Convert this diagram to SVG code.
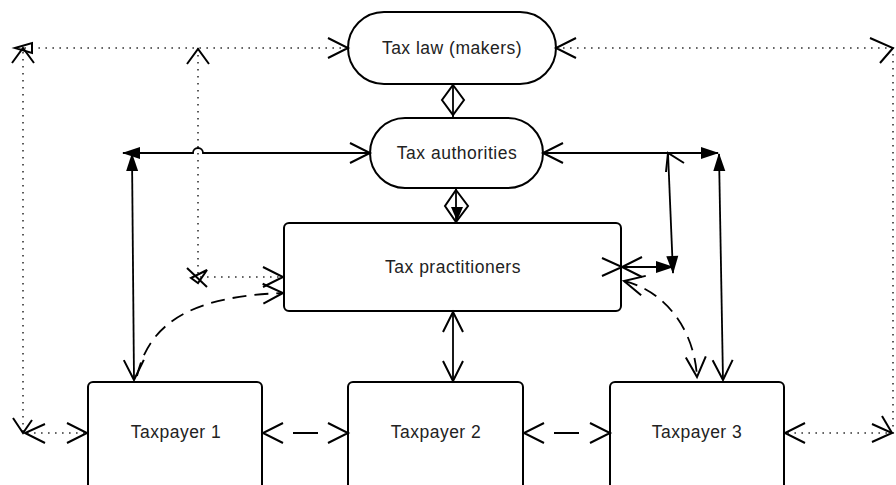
<svg xmlns="http://www.w3.org/2000/svg" width="896" height="485" viewBox="0 0 896 485">
<style>
.node{fill:#fff;stroke:#000;stroke-width:2}
.lbl{font-family:"Liberation Sans",Arial,sans-serif;font-size:17.5px;letter-spacing:0.5px;fill:#222;text-anchor:middle}
.c{fill:none;stroke:#000;stroke-width:1.8}
.dot{fill:none;stroke:#333;stroke-width:1.6;stroke-dasharray:1.6 5.4}
.dash{fill:none;stroke:#000;stroke-width:1.8;stroke-dasharray:14 8}
.ah{fill:none;stroke:#000;stroke-width:2}
</style>
<defs>
<marker id="open" viewBox="0 0 22 22" markerWidth="22" markerHeight="22" refX="21" refY="11" orient="auto-start-reverse" markerUnits="userSpaceOnUse" overflow="visible">
<path d="M1,1 L21,11 L1,21" fill="none" stroke="#000" stroke-width="2" stroke-dasharray="none"/>
</marker>
<marker id="fill" viewBox="0 0 18 12" markerWidth="18" markerHeight="12" refX="17" refY="6" orient="auto-start-reverse" markerUnits="userSpaceOnUse" overflow="visible">
<path d="M0,0 L18,6 L0,12 z" fill="#000" stroke="none"/>
</marker>
</defs>

<g id="tax-law">
  <rect class="node" x="348" y="12" width="208" height="72" rx="36"/>
  <text class="lbl" x="452" y="54">Tax law (makers)</text>
</g>
<g id="tax-authorities">
  <rect class="node" x="370" y="118" width="173" height="70" rx="35"/>
  <text class="lbl" x="457" y="159">Tax authorities</text>
</g>
<g id="tax-practitioners">
  <rect class="node" x="284" y="223" width="337" height="88" rx="5"/>
  <text class="lbl" x="453" y="273">Tax practitioners</text>
</g>
<g id="taxpayer-1">
  <rect class="node" x="88" y="382" width="174" height="120" rx="5"/>
  <text class="lbl" x="176" y="438">Taxpayer 1</text>
</g>
<g id="taxpayer-2">
  <rect class="node" x="348" y="382" width="175" height="120" rx="5"/>
  <text class="lbl" x="436" y="438">Taxpayer 2</text>
</g>
<g id="taxpayer-3">
  <rect class="node" x="610" y="382" width="174" height="120" rx="5"/>
  <text class="lbl" x="697" y="438">Taxpayer 3</text>
</g>

<g id="connectors">
  <!-- law left to taxpayer 1 (dotted) -->
  <path class="dot" d="M348,48 H23 V433 H87" marker-start="url(#open)" marker-end="url(#open)"/>
  <path class="ah" d="M12,63 L23,48 L34,63"/>
  <path class="ah" d="M15,48 L32,43 L32,53 Z" stroke-width="1.6"/>
  <path class="ah" d="M13,418 L23,433 L32,420"/>
  <path class="ah" d="M45,424 L25,433 L45,443"/>
  <!-- law left branch to practitioners (dotted) -->
  <path class="dot" d="M198,48 V277 H283" marker-end="url(#open)"/>
  <path class="ah" d="M187,64 L198,49 L209,64"/>
  <path class="ah" d="M187,268 L207,287"/>
  <path class="ah" d="M191,278 L198,283 L207,270 Z" stroke-width="1.6"/>
  <!-- authorities left to taxpayer 1 -->
  <path class="c" d="M370,153 H203 A5,5 0 0 0 193,153 H123" marker-start="url(#open)" marker-end="url(#fill)"/>
  <path class="c" d="M134,380 L132,154" stroke-width="2.2" marker-start="url(#open)" marker-end="url(#fill)"/>
  <!-- taxpayer 1 to practitioners dashed curve -->
  <path class="dash" d="M137,376 C150,318 200,296 283,293" marker-end="url(#open)"/>
  <!-- law to authorities -->
  <path class="c" d="M453,84 V118"/>
  <path class="ah" d="M453,85 L464,100 L453,115 L442,100 Z"/>
  <!-- authorities to practitioners -->
  <path class="c" d="M456,188 V222"/>
  <path class="ah" d="M456,190 L468,206 L456,222 L445,206 Z"/>
  <path d="M451,207 L463,207 L457,221 Z" fill="#000"/>
  <!-- authorities right to taxpayer 3 -->
  <path class="c" d="M543,153 H718" marker-start="url(#open)" marker-end="url(#fill)"/>
  <path class="c" d="M723,380 L719,154" stroke-width="2.2" marker-start="url(#open)" marker-end="url(#fill)"/>
  <!-- authorities right branch to practitioners right -->
  <path class="c" d="M668,153 L673,273" marker-end="url(#fill)"/>
  <path class="ah" d="M666,172 L668,153 L684,163"/>
  <path class="c" d="M622,267 H673" marker-start="url(#open)" marker-end="url(#fill)"/>
  <path class="ah" d="M602,258 L622,267 L602,276"/>
  <!-- practitioners to taxpayer 3 dashed curve -->
  <path class="dash" d="M624,281 C662,290 694,326 697,377" marker-start="url(#open)" marker-end="url(#open)"/>
  <!-- practitioners to taxpayer 2 -->
  <path class="c" d="M453,312 V381" marker-start="url(#open)" marker-end="url(#open)"/>
  <!-- taxpayer links -->
  <path class="c" d="M263,433 H348" stroke-dasharray="0 30 25 100" marker-start="url(#open)" marker-end="url(#open)"/>
  <path class="c" d="M524,433 H610" stroke-dasharray="0 30 25 100" marker-start="url(#open)" marker-end="url(#open)"/>
  <!-- law right to taxpayer 3 (dotted) -->
  <path class="dot" d="M556,48 H893 V433 H785" marker-start="url(#open)" marker-end="url(#open)"/>
  <path class="ah" d="M870,38 L893,48 L880,63"/>
  <path class="ah" d="M872,424 L892,433 L872,442"/>
  <path class="ah" d="M882,416 L892,433"/>
</g>
</svg>
